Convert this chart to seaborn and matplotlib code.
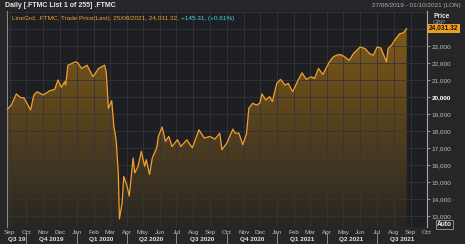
import numpy as np
import pandas as pd
import matplotlib
matplotlib.use("Agg")
import matplotlib.pyplot as plt
import matplotlib.dates as mdates
import seaborn as sns

# ---------------- data ----------------
dates = ["2019-08-27", "2019-09-04", "2019-09-13", "2019-09-20", "2019-09-27",
         "2019-10-09", "2019-10-15", "2019-10-21", "2019-11-01", "2019-11-13",
         "2019-11-22", "2019-11-28", "2019-12-04", "2019-12-10", "2019-12-12",
         "2019-12-16", "2019-12-30", "2020-01-03", "2020-01-10", "2020-01-20",
         "2020-01-31", "2020-02-10", "2020-02-21", "2020-02-24", "2020-02-28",
         "2020-03-05", "2020-03-09", "2020-03-13", "2020-03-17", "2020-03-19",
         "2020-03-24", "2020-03-27", "2020-04-02", "2020-04-06", "2020-04-13",
         "2020-04-16", "2020-04-22", "2020-04-28", "2020-05-04", "2020-05-07",
         "2020-05-13", "2020-05-18", "2020-05-26", "2020-05-29", "2020-06-05",
         "2020-06-11", "2020-06-17", "2020-06-23", "2020-07-03", "2020-07-09",
         "2020-07-20", "2020-07-30", "2020-08-11", "2020-08-21", "2020-08-31",
         "2020-09-09", "2020-09-18", "2020-09-22", "2020-10-01", "2020-10-12",
         "2020-10-16", "2020-10-23", "2020-10-30", "2020-11-06", "2020-11-10",
         "2020-11-17", "2020-11-24", "2020-11-30", "2020-12-04", "2020-12-11",
         "2020-12-18", "2020-12-23", "2020-12-31", "2021-01-07", "2021-01-15",
         "2021-01-21", "2021-01-29", "2021-02-08", "2021-02-15", "2021-02-23",
         "2021-03-04", "2021-03-10", "2021-03-17", "2021-03-25", "2021-04-06",
         "2021-04-13", "2021-04-19", "2021-04-26", "2021-05-04", "2021-05-12",
         "2021-05-20", "2021-06-01", "2021-06-10", "2021-06-18", "2021-06-25",
         "2021-07-02", "2021-07-09", "2021-07-19", "2021-07-22", "2021-07-28",
         "2021-08-05", "2021-08-12", "2021-08-19", "2021-08-25"]
prices = [19250, 19530, 20180, 19980, 19940,
          19240, 20120, 20310, 20120, 20370,
          20450, 21000, 20570, 20900, 20700,
          21870, 22070, 22010, 21680, 21870,
          21190, 21680, 21870, 21480, 19340,
          19780, 18260, 17480, 15530, 12830,
          13780, 15330, 14750, 14170, 16410,
          15530, 15920, 16800, 15920, 16310,
          15440, 16410, 17000, 17680, 18230,
          17390, 17680, 17090, 17480, 17090,
          17480, 17000, 18070, 17580, 17680,
          17520, 17870, 16900, 17290, 18110,
          17870, 17870, 17190, 17870, 19340,
          19630, 19530, 19630, 20180, 19820,
          20020, 19730, 20800, 21040, 20700,
          20800, 20310, 21000, 21420, 21040,
          21190, 21090, 21680, 21330, 22070,
          22360, 22460, 22500, 22360, 22160,
          22560, 22940, 22850, 22560, 22460,
          22940, 22880, 22070, 22850, 23040,
          23430, 23720, 23780, 24031.32]

y_ticks = [13000, 14000, 15000, 16000, 17000, 18000, 19000, 20000,
           21000, 22000, 23000]
month_labels = ["Sep", "Oct", "Nov", "Dec", "Jan", "Feb", "Mar", "Apr", "May",
                "Jun", "Jul", "Aug", "Sep", "Oct", "Nov", "Dec", "Jan", "Feb",
                "Mar", "Apr", "May", "Jun", "Jul", "Aug", "Sep", "Oct"]
quarter_labels = ["Q3 19", "Q4 2019", "Q1 2020", "Q2 2020", "Q3 2020",
                  "Q4 2020", "Q1 2021", "Q2 2021", "Q3 2021"]
range_start = "2019-08-27"
range_end = "2021-10-01"
last_price = 24031.32
change_text = "+145.31, (+0.61%)"

df = pd.DataFrame({"date": pd.to_datetime(dates), "price": prices})

# ---------------- style ----------------
sns.set_style("dark")
plt.rcParams["font.family"] = ["Liberation Sans", "DejaVu Sans"]

FIG_BG = "#262628"
AX_BG = "#1e1f23"
GRID = "#34353a"
LINE = "#f0a030"
TXT = "#bdbdbd"

fig = plt.figure(figsize=(4.65, 2.44), dpi=100)
fig.patch.set_facecolor(FIG_BG)
ax = fig.add_axes([7 / 465, 1 - 227 / 244, 420 / 465, 216 / 244])
ax.set_facecolor(AX_BG)

x0 = mdates.date2num(pd.Timestamp(range_start))
x1 = mdates.date2num(pd.Timestamp(range_end))
ylo, yhi = 12350, 25060
ax.set_xlim(x0, x1)
ax.set_ylim(ylo, yhi)

# grid
months = pd.date_range("2019-09-01", "2021-10-01", freq="MS")
for m in months:
    ax.axvline(mdates.date2num(m), color=GRID, lw=0.6, zorder=2)
for t in range(13000, 25001, 1000):
    ax.axhline(t, color=GRID, lw=0.6, zorder=2)

# gradient fill under line
poly = ax.fill_between(df["date"], df["price"], ylo, facecolor="none",
                       edgecolor="none")
n = 256
bot = np.array([40, 38, 33]) / 255
top = np.array([135, 94, 26]) / 255
grad = np.linspace(0, 1, n)[:, None]
img = (bot[None, :] * (1 - grad) + top[None, :] * grad)[:, None, :]
im = ax.imshow(img, extent=[x0, x1, ylo, yhi], aspect="auto",
               origin="lower", zorder=1, interpolation="bilinear")
im.set_clip_path(poly.get_paths()[0], transform=ax.transData)

sns.lineplot(data=df, x="date", y="price", ax=ax, color=LINE, lw=0.9,
             zorder=3)
ax.set_xlabel("")
ax.set_ylabel("")

# spines
for s in ["top", "bottom"]:
    ax.spines[s].set_visible(False)
ax.spines["left"].set_visible(True)
ax.spines["left"].set_color("#8a8a8a")
ax.spines["left"].set_linewidth(0.8)
ax.spines["right"].set_visible(True)
ax.spines["right"].set_color("#a8a8a8")
ax.spines["right"].set_linewidth(0.8)

# y axis on right
ax.yaxis.tick_right()
ax.set_yticks(y_ticks)
ax.set_yticklabels([f"{v:,}" for v in y_ticks])
ax.tick_params(axis="y", colors=TXT, labelsize=4.6, length=2, width=0.5,
               pad=1.5, direction="out", right=True, left=False)
for lbl in ax.get_yticklabels():
    if lbl.get_text() == "20,000":
        lbl.set_color("white")
        lbl.set_fontweight("bold")

# x axis month labels
ax.set_xticks([mdates.date2num(m) for m in months])
ax.set_xticklabels(month_labels)
ax.tick_params(axis="x", colors=TXT, labelsize=4.6, length=0, pad=2.5,
               bottom=True)

# quarter row
qstarts = pd.date_range("2019-07-01", "2021-07-01", freq="QS")
for lab, qs in zip(quarter_labels, qstarts):
    qe = qs + pd.offsets.QuarterBegin(startingMonth=1)
    a = max(mdates.date2num(qs), x0)
    b = min(mdates.date2num(qe), x1)
    ax.text((a + b) / 2, -0.058, lab, transform=ax.get_xaxis_transform(),
            ha="center", va="center", fontsize=4.6, fontweight="bold",
            color="#e0e0e0", clip_on=False)
for qs in qstarts[1:]:
    xq = mdates.date2num(qs)
    ax.plot([xq, xq], [-0.03, -0.085], transform=ax.get_xaxis_transform(),
            color="#9a9a9a", lw=0.6, clip_on=False)

# header
fig.text(5 / 465, 1 - 5.5 / 244, "Daily [.FTMC List 1 of 255] .FTMC",
         fontsize=5, fontweight="bold", color="#e8e8e8", va="center")
fig.text(461 / 465, 1 - 5.5 / 244, f"27/08/2019 - 01/10/2021 (LON)",
         fontsize=4.6, color="#b0b0b0", va="center", ha="right")

# legend line
ax.annotate("LineGrd, .FTMC, Trade Price(Last), 25/08/2021, 24,031.32, ",
            xy=(0.012, 0.975), xycoords="axes fraction", fontsize=4.6,
            color="#e8a030", va="top", ha="left")
t1 = ax.text(0.012, 0.975,
             "LineGrd, .FTMC, Trade Price(Last), 25/08/2021, 24,031.32, ",
             transform=ax.transAxes, fontsize=4.6, color="#e8a030",
             va="top", ha="left", alpha=0)
fig.canvas.draw()
bb = t1.get_window_extent().transformed(ax.transAxes.inverted())
ax.text(bb.x1, 0.975, change_text, transform=ax.transAxes, fontsize=4.6,
        color="#3ed6d6", va="top", ha="left")

# right-side labels
fig.text(433 / 465, 1 - 16 / 244, "Price", fontsize=4.8, color="#e8e8e8",
         va="center", ha="left", fontweight="bold")
fig.text(433 / 465, 1 - 22 / 244, "GBP", fontsize=4.4, color="#9a9a9a",
         va="center", ha="left")
ax.text(1.005, last_price, f"{last_price:,.2f}",
        transform=ax.get_yaxis_transform(), fontsize=4.8, fontweight="bold",
        color="#111111", va="center", ha="left", clip_on=False,
        bbox=dict(boxstyle="square,pad=0.15", facecolor="#f0a020",
                  edgecolor="none"))
fig.text(437 / 465, 1 - 224 / 244, "Auto", fontsize=4.8, color="#e8e8e8",
         fontweight="bold", va="center", ha="left",
         bbox=dict(boxstyle="square,pad=0.15", facecolor="none",
                   edgecolor="#9a9a9a", lw=0.6))

fig.savefig("out.png", dpi=100, facecolor=fig.get_facecolor())
